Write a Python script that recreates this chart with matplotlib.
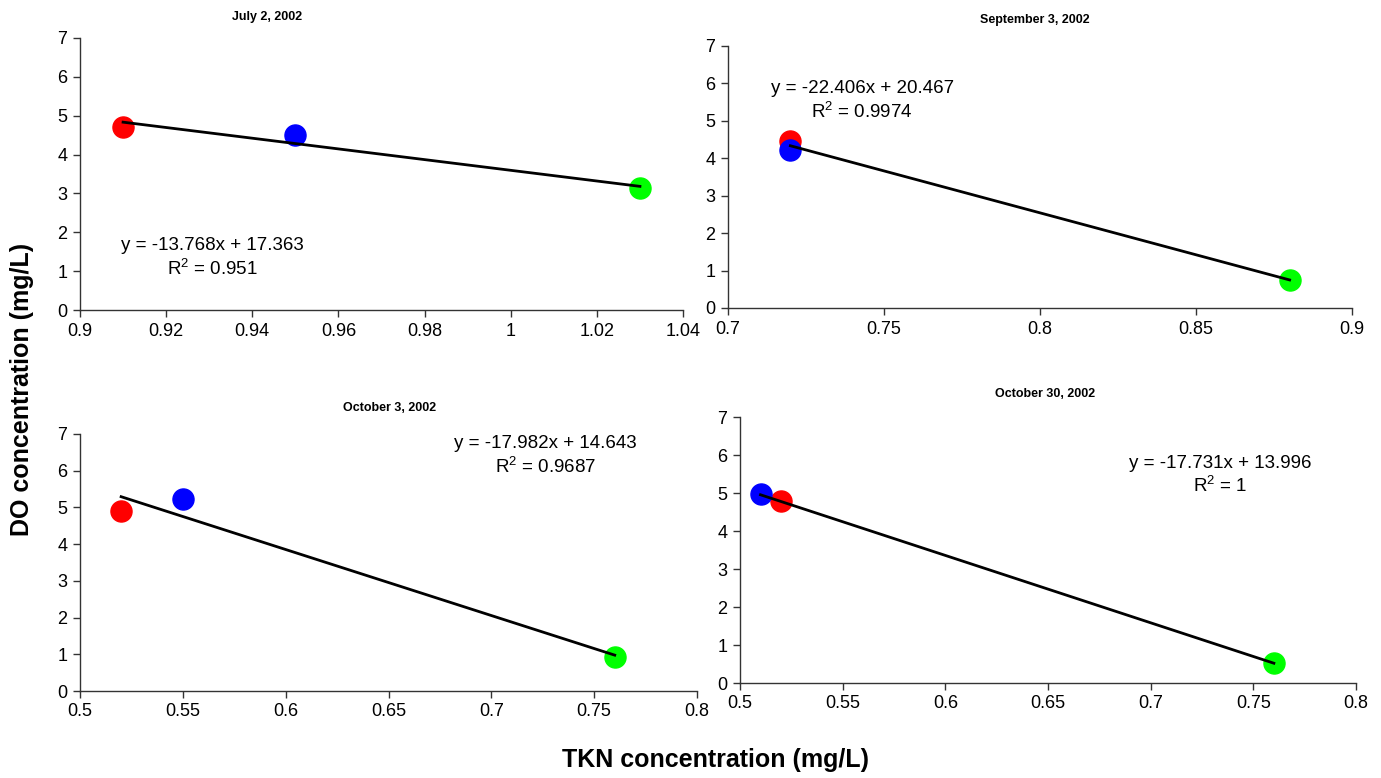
import numpy as np
import matplotlib.pyplot as plt
from matplotlib.ticker import FuncFormatter, MultipleLocator

plt.rcParams['font.family'] = ['Liberation Sans', 'DejaVu Sans']

# data per sampling date: red, blue, green points
titles = ['July 2, 2002', 'September 3, 2002', 'October 3, 2002', 'October 30, 2002']
tkn_red = [0.91, 0.72, 0.52, 0.52]
do_red = [4.70, 4.45, 4.90, 4.80]
tkn_blue = [0.95, 0.72, 0.55, 0.51]
do_blue = [4.50, 4.22, 5.22, 4.98]
tkn_green = [1.03, 0.88, 0.76, 0.76]
do_green = [3.15, 0.75, 0.93, 0.52]
slopes = [-13.768, -22.406, -17.982, -17.731]
intercepts = [17.363, 20.467, 14.643, 13.996]
r2_labels = ['0.951', '0.9974', '0.9687', '1']
xlims = [(0.9, 1.04), (0.7, 0.9), (0.5, 0.8), (0.5, 0.8)]
xsteps = [0.02, 0.05, 0.05, 0.05]

W, H = 1381, 778
fig = plt.figure(figsize=(W / 100, H / 100), dpi=100)

# axes boxes in pixels: left, right, top, bottom
boxes = [(80, 683, 38, 310), (728, 1352, 46, 308), (80, 697, 434, 691), (740, 1356, 417, 683)]
title_pos = [(267, 17), (1035, 20), (390, 408), (1045, 394)]
eq_pos = [(0.22, 0.19), (0.215, 0.79), (0.754, 0.915), (0.78, 0.78)]

for i in range(4):
    l, r, t, b = boxes[i]
    ax = fig.add_axes([l / W, 1 - b / H, (r - l) / W, (b - t) / H])
    ax.scatter([tkn_red[i]], [do_red[i]], s=230, color='#ff0000', zorder=2)
    ax.scatter([tkn_blue[i]], [do_blue[i]], s=230, color='#0000ff', zorder=2)
    ax.scatter([tkn_green[i]], [do_green[i]], s=230, color='#00ff00', zorder=2)
    xs = [tkn_red[i], tkn_blue[i], tkn_green[i]]
    xx = np.array([min(xs), max(xs)])
    ax.plot(xx, slopes[i] * xx + intercepts[i], color='black', lw=2, zorder=3)

    ax.set_xlim(*xlims[i])
    ax.set_ylim(0, 7)
    ax.xaxis.set_major_locator(MultipleLocator(xsteps[i]))
    ax.yaxis.set_major_locator(MultipleLocator(1))
    ax.xaxis.set_major_formatter(FuncFormatter(lambda v, p: '%g' % round(v, 4)))
    for s in ['top', 'right']:
        ax.spines[s].set_visible(False)
    for s in ['left', 'bottom']:
        ax.spines[s].set_color('#333333')
        ax.spines[s].set_linewidth(1)
    ax.tick_params(direction='out', length=5, width=1, color='#333333', labelsize=13, pad=4)
    ax.set_facecolor('none')

    eq = 'y = %.3fx + %.3f' % (slopes[i], intercepts[i])
    ax.text(eq_pos[i][0], eq_pos[i][1], eq + '\n$\\mathregular{R^2}$ = ' + r2_labels[i],
            transform=ax.transAxes, ha='center', va='center', fontsize=13.5,
            linespacing=1.3)
    fig.text(title_pos[i][0] / W, 1 - title_pos[i][1] / H, titles[i],
             ha='center', va='center', fontsize=9, fontweight='bold')

fig.text(22 / W, 1 - 389 / H, 'DO concentration (mg/L)', rotation=90,
         ha='center', va='center', fontsize=18, fontweight='bold')
fig.text(715 / W, 1 - 760 / H, 'TKN concentration (mg/L)',
         ha='center', va='center', fontsize=18, fontweight='bold')

fig.savefig('out.png', dpi=100)
